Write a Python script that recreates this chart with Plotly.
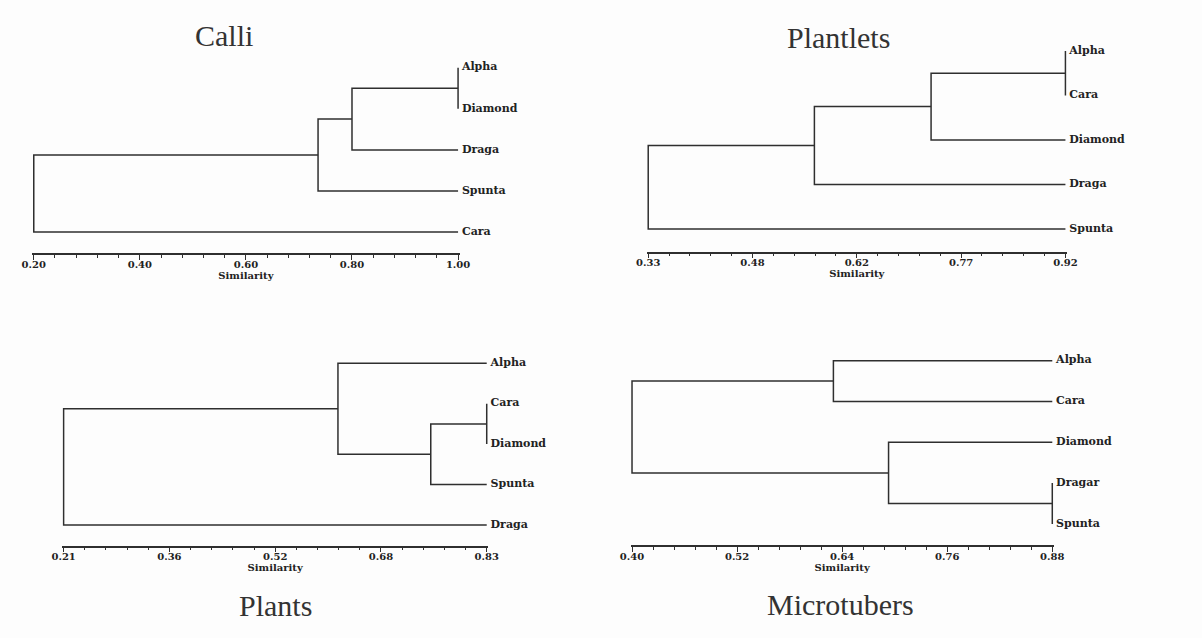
import plotly.graph_objects as go

W, H = 1202, 638

# ---------------- data ----------------
# merges: (child_a, child_b, similarity); int child = index of an earlier merge
calli_leaves = ["Alpha", "Diamond", "Draga", "Spunta", "Cara"]
calli_merges = [("Alpha", "Diamond", 1.00), (0, "Draga", 0.80), (1, "Spunta", 0.736), (2, "Cara", 0.20)]
calli_ticks = [0.20, 0.40, 0.60, 0.80, 1.00]
calli_ticklabels = ["0.20", "0.40", "0.60", "0.80", "1.00"]

plantlets_leaves = ["Alpha", "Cara", "Diamond", "Draga", "Spunta"]
plantlets_merges = [("Alpha", "Cara", 0.92), (0, "Diamond", 0.73), (1, "Draga", 0.565), (2, "Spunta", 0.33)]
plantlets_ticks = [0.33, 0.4775, 0.625, 0.7725, 0.92]
plantlets_ticklabels = ["0.33", "0.48", "0.62", "0.77", "0.92"]

plants_leaves = ["Alpha", "Cara", "Diamond", "Spunta", "Draga"]
plants_merges = [("Cara", "Diamond", 0.83), (0, "Spunta", 0.748), ("Alpha", 1, 0.612), (2, "Draga", 0.21)]
plants_ticks = [0.21, 0.365, 0.52, 0.675, 0.83]
plants_ticklabels = ["0.21", "0.36", "0.52", "0.68", "0.83"]

micro_leaves = ["Alpha", "Cara", "Diamond", "Dragar", "Spunta"]
micro_merges = [("Alpha", "Cara", 0.630), ("Dragar", "Spunta", 0.88), ("Diamond", 1, 0.693), (0, 2, 0.40)]
micro_ticks = [0.40, 0.52, 0.64, 0.76, 0.88]
micro_ticklabels = ["0.40", "0.52", "0.64", "0.76", "0.88"]

# ---------------- layout (pixels) ----------------
panels = [
    dict(title="Calli", leaves=calli_leaves, merges=calli_merges, ticks=calli_ticks, labels=calli_ticklabels,
         px0=23.2, px1=455.4, leaf0=67.7, gap=41.1, axis_y=253.3, tx=217, ty=36),
    dict(title="Plantlets", leaves=plantlets_leaves, merges=plantlets_merges, ticks=plantlets_ticks, labels=plantlets_ticklabels,
         px0=649.1, px1=1074.1, leaf0=51.0, gap=44.5, axis_y=251.7, tx=843, ty=38),
    dict(title="Plants", leaves=plants_leaves, merges=plants_merges, ticks=plants_ticks, labels=plants_ticklabels,
         px0=53.6, px1=484.6, leaf0=363.3, gap=40.4, axis_y=545.5, tx=269, ty=605),
    dict(title="Microtubers", leaves=micro_leaves, merges=micro_merges, ticks=micro_ticks, labels=micro_ticklabels,
         px0=632.6, px1=1060.7, leaf0=360.7, gap=40.8, axis_y=545.0, tx=845, ty=604),
]

LINE = "#2f2f2f"
TEXT = "#222222"
BG = "#fdfdfd"
SERIF_B = "DejaVu Serif"

fig = go.Figure()
annotations = []

for i, p in enumerate(panels):
    xa = "x" if i == 0 else f"x{i+1}"
    ya = "y" if i == 0 else f"y{i+1}"
    leaves = p["leaves"]
    ticks = p["ticks"]
    v0, v1 = ticks[0], ticks[-1]
    pos = {name: (v1, float(k)) for k, name in enumerate(leaves)}
    nodes = []
    xs, ys = [], []

    def get(c):
        return nodes[c] if isinstance(c, int) else pos[c]

    for a, b, s in p["merges"]:
        xa_, ya_ = get(a)
        xb_, yb_ = get(b)
        xs += [xa_, s, s, xb_, None]
        ys += [ya_, ya_, yb_, yb_, None]
        nodes.append((s, (ya_ + yb_) / 2))

    fig.add_trace(go.Scatter(x=xs, y=ys, mode="lines", line=dict(color=LINE, width=1.5),
                             xaxis=xa, yaxis=ya, hoverinfo="skip", showlegend=False))
    fig.add_trace(go.Scatter(x=[v1] * len(leaves), y=list(range(len(leaves))), mode="text",
                             text=[" " + s for s in leaves], textposition="middle right",
                             textfont=dict(family=SERIF_B, size=11, color=TEXT, weight="bold"),
                             cliponaxis=False, xaxis=xa, yaxis=ya, hoverinfo="skip", showlegend=False))

    # axis geometry
    k = (p["px1"] - p["px0"]) / (v1 - v0)
    padpx = 1.5
    xr = [v0 - padpx / k, v1 + padpx / k]
    xdom = [(p["px0"] - padpx) / W, (p["px1"] + padpx) / W]
    axis_val = (p["axis_y"] - p["leaf0"]) / p["gap"]
    top_pad = 0.3
    top_px = p["leaf0"] - top_pad * p["gap"]
    yr = [axis_val, -top_pad]
    ydom = [1 - p["axis_y"] / H, 1 - top_px / H]
    step = ticks[1] - ticks[0]

    key_x = "xaxis" if i == 0 else f"xaxis{i+1}"
    key_y = "yaxis" if i == 0 else f"yaxis{i+1}"
    fig.update_layout(**{
        key_x: dict(domain=xdom, range=xr, anchor=ya, showgrid=False, zeroline=False,
                    showline=True, linecolor=LINE, linewidth=1.5,
                    ticks="outside", ticklen=5, tickwidth=1.3, tickcolor=LINE,
                    tickvals=ticks, ticktext=p["labels"], ticklabelstandoff=-4,
                    tickfont=dict(family=SERIF_B, size=10, color=TEXT, weight="bold"),
                    minor=dict(ticks="outside", ticklen=3, tickwidth=1.2, tickcolor=LINE,
                               tick0=v0, dtick=step / 5, showgrid=False),
                    title=dict(text="Similarity", standoff=0,
                               font=dict(family=SERIF_B, size=10, color=TEXT, weight="bold")),
                    fixedrange=True),
        key_y: dict(domain=ydom, range=yr, anchor=xa, visible=False, fixedrange=True),
    })

    annotations.append(dict(text=p["title"], x=p["tx"] / W, y=1 - p["ty"] / H, xref="paper", yref="paper",
                            xanchor="center", yanchor="middle", showarrow=False,
                            font=dict(family="Liberation Serif", size=30, color="#333333")))

fig.update_layout(width=W, height=H, margin=dict(l=0, r=0, t=0, b=0),
                  paper_bgcolor=BG, plot_bgcolor=BG, annotations=annotations, showlegend=False)

fig.write_html("out.html", config={"displayModeBar": False})
